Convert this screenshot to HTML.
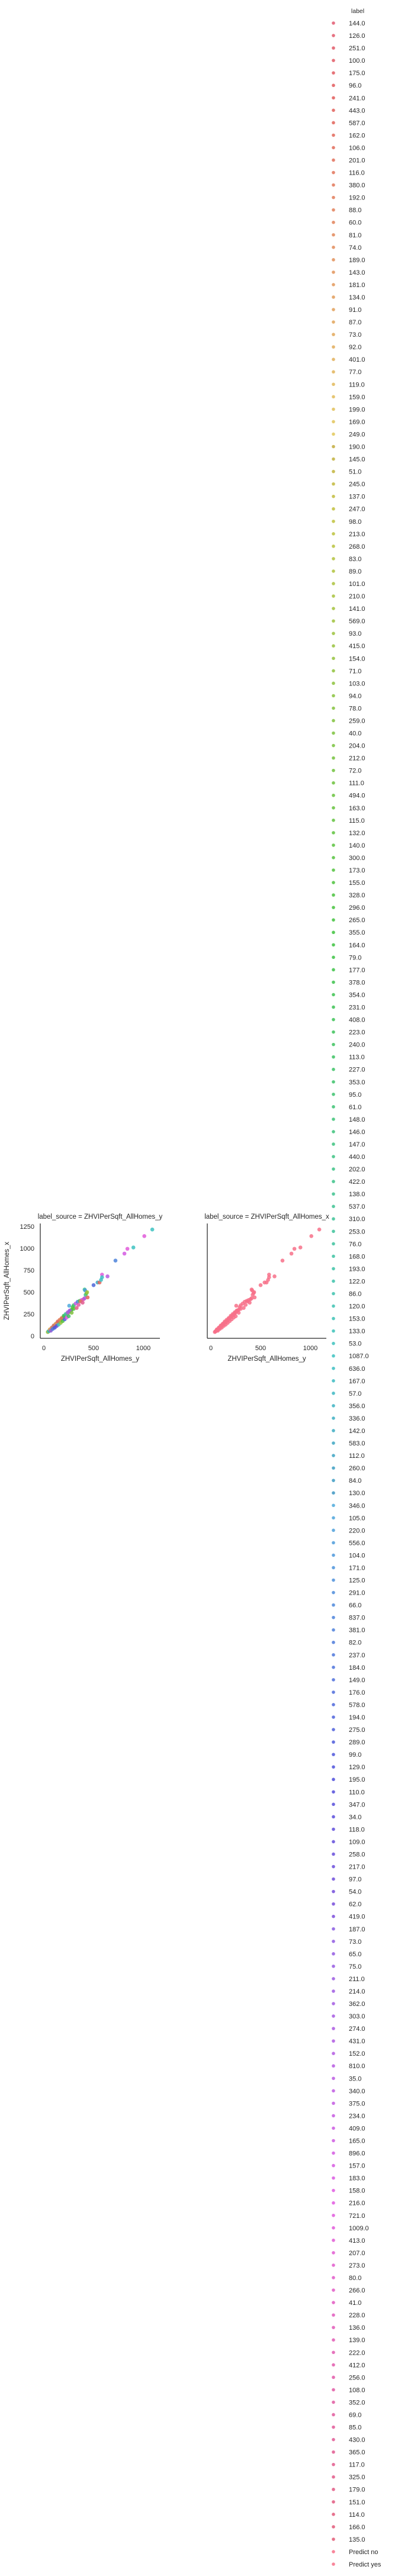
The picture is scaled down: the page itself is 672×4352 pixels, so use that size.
<!DOCTYPE html>
<html><head><meta charset="utf-8">
<style>
html,body{margin:0;padding:0;background:#fff;}
svg{display:block;font-family:"Liberation Sans","DejaVu Sans",sans-serif;}
</style></head>
<body>
<svg id="fig" width="672" height="4352" viewBox="0 0 672 4352" xmlns="http://www.w3.org/2000/svg"></svg>
<script>
const legendLabels = ["144.0","126.0","251.0","100.0","175.0","96.0","241.0","443.0","587.0","162.0","106.0","201.0","116.0","380.0","192.0","88.0","60.0","81.0","74.0","189.0","143.0","181.0","134.0","91.0","87.0","73.0","92.0","401.0","77.0","119.0","159.0","199.0","169.0","249.0","190.0","145.0","51.0","245.0","137.0","247.0","98.0","213.0","268.0","83.0","89.0","101.0","210.0","141.0","569.0","93.0","415.0","154.0","71.0","103.0","94.0","78.0","259.0","40.0","204.0","212.0","72.0","111.0","494.0","163.0","115.0","132.0","140.0","300.0","173.0","155.0","328.0","296.0","265.0","355.0","164.0","79.0","177.0","378.0","354.0","231.0","408.0","223.0","240.0","113.0","227.0","353.0","95.0","61.0","148.0","146.0","147.0","440.0","202.0","422.0","138.0","537.0","310.0","253.0","76.0","168.0","193.0","122.0","86.0","120.0","153.0","133.0","53.0","1087.0","636.0","167.0","57.0","356.0","336.0","142.0","583.0","112.0","260.0","84.0","130.0","346.0","105.0","220.0","556.0","104.0","171.0","125.0","291.0","66.0","837.0","381.0","82.0","237.0","184.0","149.0","176.0","578.0","194.0","275.0","289.0","99.0","129.0","195.0","110.0","347.0","34.0","118.0","109.0","258.0","217.0","97.0","54.0","62.0","419.0","187.0","73.0","65.0","75.0","211.0","214.0","362.0","303.0","274.0","431.0","152.0","810.0","35.0","340.0","375.0","234.0","409.0","165.0","896.0","157.0","183.0","158.0","216.0","721.0","1009.0","413.0","207.0","273.0","80.0","266.0","41.0","228.0","136.0","139.0","222.0","412.0","256.0","108.0","352.0","69.0","85.0","430.0","365.0","117.0","325.0","179.0","151.0","114.0","166.0","135.0","Predict no","Predict yes"];
const pointsX = [40,45,50,55,60,65,70,75,80,85,90,95,100,105,110,115,120,125,130,135,140,150,160,170,180,190,200,210,220,230,240,250,260,270,280,255,290,300,320,340,360,380,400,410,420,430,410,415,440,435,500,540,560,575,585,585,640,720,810,840,900,1010,1090,60,80,100,120,140,160,180,200,220,240,260,70,90,110,130,150,170,190,210,230,250,280,300,330,350,370,390];
const pointsY = [45,50,55,60,62,72,75,80,85,92,95,105,110,112,120,125,130,135,140,150,150,160,170,180,195,205,215,225,235,245,255,270,280,290,300,345,330,350,370,390,400,410,420,430,470,490,530,520,440,500,580,610,610,640,700,670,680,860,940,995,1010,1140,1215,75,95,120,140,165,185,205,230,250,270,290,60,80,95,115,130,150,170,190,210,225,265,310,320,355,395,380];
const pointLabels = ["40.0","51.0","53.0","57.0","61.0","66.0","72.0","76.0","84.0","92.0","95.0","105.0","110.0","112.0","120.0","125.0","130.0","135.0","140.0","148.0","152.0","160.0","168.0","181.0","193.0","204.0","213.0","223.0","237.0","247.0","256.0","268.0","275.0","291.0","296.0","346.0","328.0","353.0","375.0","381.0","408.0","409.0","412.0","431.0","440.0","494.0","537.0","556.0","443.0","569.0","578.0","583.0","587.0","636.0","721.0","636.0","810.0","837.0","896.0","1009.0","1087.0","1009.0","1087.0","73.0","88.0","116.0","143.0","162.0","192.0","201.0","231.0","253.0","274.0","303.0","65.0","82.0","99.0","118.0","133.0","154.0","173.0","194.0","216.0","227.0","259.0","300.0","325.0","352.0","380.0","365.0"];
const xTicks = [0,500,1000];
const yTicks = [0,250,500,750,1000,1250];

const NS="http://www.w3.org/2000/svg";
const svg=document.getElementById('fig');
function mk(tag,attrs,parent){const e=document.createElementNS(NS,tag);for(const k in attrs)e.setAttribute(k,attrs[k]);(parent||svg).appendChild(e);return e;}
function colorFor(i,n){
  const h=(350+360*i/n)%360;
  // husl-like: greens/teals darker and less saturated
  let l=62, s=70;
  if(h>50&&h<200){l=50;s=52;}
  if(h>=200&&h<260){l=58;s=65;}
  return `hsl(${h},${s}%,${l}%)`;
}
const nL=legendLabels.length;
function labelColor(lbl){const i=legendLabels.indexOf(lbl);return colorFor(i<0?0:i,nL-2);}

const yPix=v=>2257-v*0.148;
const panels=[{x0:68,x1:270,z:74,name:'left'},{x0:350,x1:551,z:356,name:'right'}];
panels.forEach((p,pi)=>{
  const xPix=v=>p.z+v*0.168;
  const g=mk('g',{});
  
  
  for(let i=0;i<pointsX.length;i++){
    const c=mk('circle',{cx:xPix(pointsX[i]),cy:yPix(pointsY[i]),r:3.3,fill:pi===0?labelColor(pointLabels[i]):'#f77189','fill-opacity':0.85},g);
    
    
  }
  const ya=mk('line',{x1:p.x0,y1:2067,x2:p.x0,y2:2261,stroke:'#262626','stroke-width':1.25},g);
  
  
  const xa=mk('line',{x1:p.x0,y1:2261,x2:p.x1,y2:2261,stroke:'#262626','stroke-width':1.25},g);
  
  
  xTicks.forEach(t=>{
    const tx=mk('text',{x:xPix(t),y:2281,'text-anchor':'middle','font-size':11,fill:'#262626'},g);
    tx.textContent=t;
    
    
  });
  if(pi===0){
    yTicks.forEach(t=>{
      const tx=mk('text',{x:58,y:yPix(t)+4,'text-anchor':'end','font-size':11,fill:'#262626'},g);
      tx.textContent=t;
      
      
    });
    const yl=mk('text',{x:0,y:0,transform:'translate(15,2164) rotate(-90)','text-anchor':'middle','font-size':11.5,fill:'#262626'},g);
    yl.textContent='ZHVIPerSqft_AllHomes_x';
    
    
  }
  const xl=mk('text',{x:(p.x0+p.x1)/2,y:2299,'text-anchor':'middle','font-size':11.5,fill:'#262626'},g);
  xl.textContent='ZHVIPerSqft_AllHomes_y';
  
  
  const ti=mk('text',{x:(p.x0+p.x1)/2,y:2059,'text-anchor':'middle','font-size':11.5,fill:'#262626'},g);
  ti.textContent=pi===0?'label_source = ZHVIPerSqft_AllHomes_y':'label_source = ZHVIPerSqft_AllHomes_x';
  
  
});

const lg=mk('g',{});


const lt=mk('text',{x:604,y:22,'text-anchor':'middle','font-size':10.5,fill:'#262626'},lg);
lt.textContent='label';


const step=(4332-39)/(nL-1);
legendLabels.forEach((l,i)=>{
  const y=39+i*step;
  const col=i>=nL-2?'#f77189':colorFor(i,nL-2);
  const c=mk('circle',{cx:563,cy:y,r:2.8,fill:col,'fill-opacity':0.85},lg);
  
  
  const t=mk('text',{x:589,y:y+4,'font-size':11,fill:'#262626'},lg);
  t.textContent=l;
  
  
});
</script>
</body></html>
